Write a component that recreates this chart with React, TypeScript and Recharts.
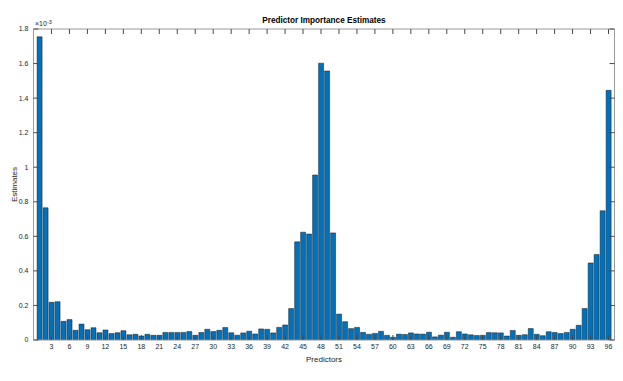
import React from 'react';
import { BarChart, Bar, XAxis, YAxis, Label } from 'recharts';

// Predictor indices (categories)
const predictors = [
  1, 2, 3, 4, 5, 6, 7, 8, 9, 10, 11, 12, 13, 14, 15, 16, 17, 18, 19, 20, 21, 22, 23, 24,
  25, 26, 27, 28, 29, 30, 31, 32, 33, 34, 35, 36, 37, 38, 39, 40, 41, 42, 43, 44, 45, 46, 47, 48,
  49, 50, 51, 52, 53, 54, 55, 56, 57, 58, 59, 60, 61, 62, 63, 64, 65, 66, 67, 68, 69, 70, 71, 72,
  73, 74, 75, 76, 77, 78, 79, 80, 81, 82, 83, 84, 85, 86, 87, 88, 89, 90, 91, 92, 93, 94, 95, 96,
];

// Importance estimates, in units of 1e-3
const importance = [
  1.755, 0.765, 0.218, 0.222, 0.108, 0.118, 0.056, 0.092, 0.060, 0.071, 0.042, 0.058,
  0.037, 0.042, 0.054, 0.030, 0.033, 0.023, 0.033, 0.027, 0.027, 0.044, 0.044, 0.043,
  0.044, 0.049, 0.027, 0.043, 0.062, 0.049, 0.056, 0.072, 0.042, 0.028, 0.041, 0.051,
  0.035, 0.064, 0.062, 0.041, 0.073, 0.087, 0.182, 0.568, 0.624, 0.613, 0.955, 1.602,
  1.557, 0.620, 0.150, 0.106, 0.066, 0.073, 0.044, 0.033, 0.038, 0.050, 0.027, 0.016,
  0.034, 0.032, 0.041, 0.035, 0.034, 0.045, 0.018, 0.028, 0.045, 0.016, 0.048, 0.035,
  0.030, 0.026, 0.027, 0.043, 0.042, 0.041, 0.023, 0.055, 0.027, 0.031, 0.066, 0.033,
  0.025, 0.048, 0.043, 0.037, 0.044, 0.062, 0.085, 0.182, 0.446, 0.495, 0.748, 1.445,
];

const xTicks = [3, 6, 9, 12, 15, 18, 21, 24, 27, 30, 33, 36, 39, 42, 45, 48, 51, 54, 57, 60, 63, 66, 69, 72, 75, 78, 81, 84, 87, 90, 93, 96];
const yTicks = [0, 0.2, 0.4, 0.6, 0.8, 1, 1.2, 1.4, 1.6, 1.8];
const yTickLabels = ['0', '0.2', '0.4', '0.6', '0.8', '1', '1.2', '1.4', '1.6', '1.8'];

const titleText = 'Predictor Importance Estimates';
const xLabelText = 'Predictors';
const yLabelText = 'Estimates';
const exponentText = '-3';

const data = predictors.map((p, i) => ({ p, v: importance[i] }));

const FONT = '"Liberation Sans", Arial, Helvetica, sans-serif';
const TXT = '#262626';
const AXIS = '#9a9a9a';
const TICK = '#4a4a4a';

export default function App() {
  const tickStyle = { fontSize: 7, fill: TXT, fontFamily: FONT };
  return (
    <div style={{ position: 'absolute', left: 0, top: 0, width: 623, height: 381, background: '#fff' }}>
      <BarChart
        width={623}
        height={381}
        data={data}
        margin={{ top: 28, right: 7.5, bottom: 21, left: 32.5 }}
        barCategoryGap="10%"
      >
        <XAxis
          xAxisId="bottom"
          type="number"
          dataKey="p"
          domain={[0, 97]}
          ticks={xTicks}
          interval={0}
          height={20}
          tickSize={-5}
          tickMargin={9}
          tick={tickStyle}
          axisLine={{ stroke: AXIS }}
          tickLine={{ stroke: TICK }}
          allowDataOverflow
        >
          <Label
            content={(props: any) => {
              const vb = props.viewBox || {};
              return (
                <text x={vb.x + vb.width / 2} y={362} textAnchor="middle" fontSize={8} fill={TXT} fontFamily={FONT}>
                  {xLabelText}
                </text>
              );
            }}
          />
        </XAxis>
        <XAxis
          xAxisId="top"
          orientation="top"
          type="number"
          dataKey="p"
          domain={[0, 97]}
          ticks={xTicks}
          interval={0}
          height={1}
          tickSize={-5}
          tickFormatter={() => ''}
          axisLine={{ stroke: AXIS }}
          tickLine={{ stroke: TICK }}
          allowDataOverflow
        >
          <Label
            content={(props: any) => {
              const vb = props.viewBox || {};
              return (
                <text x={vb.x + vb.width / 2} y={23} textAnchor="middle" fontSize={8.2} fontWeight="bold" fill="#000" fontFamily={FONT}>
                  {titleText}
                </text>
              );
            }}
          />
        </XAxis>
        <YAxis
          yAxisId="left"
          type="number"
          domain={[0, 1.8]}
          ticks={yTicks}
          interval={0}
          width={1}
          tickSize={-5}
          tickMargin={10}
          tick={tickStyle}
          tickFormatter={(v: number) => yTickLabels[yTicks.findIndex((t) => Math.abs(t - v) < 1e-9)] ?? String(v)}
          axisLine={{ stroke: AXIS }}
          tickLine={{ stroke: TICK }}
          allowDataOverflow
        >
          <Label
            content={(props: any) => {
              const vb = props.viewBox || {};
              const cy = vb.y + vb.height / 2;
              return (
                <g>
                  <text
                    x={14}
                    y={cy}
                    transform={`rotate(-90 14 ${cy})`}
                    textAnchor="middle"
                    dominantBaseline="central"
                    fontSize={8}
                    fill={TXT}
                    fontFamily={FONT}
                  >
                    {yLabelText}
                  </text>
                  <text x={vb.x + vb.width + 1.5} y={vb.y - 3} fontSize={7} fill={TXT} fontFamily={FONT}>
                    ×10
                    <tspan dy={-2.5} fontSize={5.5}>{exponentText}</tspan>
                  </text>
                </g>
              );
            }}
          />
        </YAxis>
        <YAxis
          yAxisId="right"
          orientation="right"
          type="number"
          domain={[0, 1.8]}
          ticks={yTicks}
          interval={0}
          width={1}
          tickSize={-5}
          tickFormatter={() => ''}
          axisLine={{ stroke: AXIS }}
          tickLine={{ stroke: TICK }}
          allowDataOverflow
        />
        <Bar
          xAxisId="bottom"
          yAxisId="left"
          dataKey="v"
          fill="#0072BD"
          stroke="#1a1a1a"
          strokeWidth={0.5}
          isAnimationActive={false}
        />
      </BarChart>
    </div>
  );
}
